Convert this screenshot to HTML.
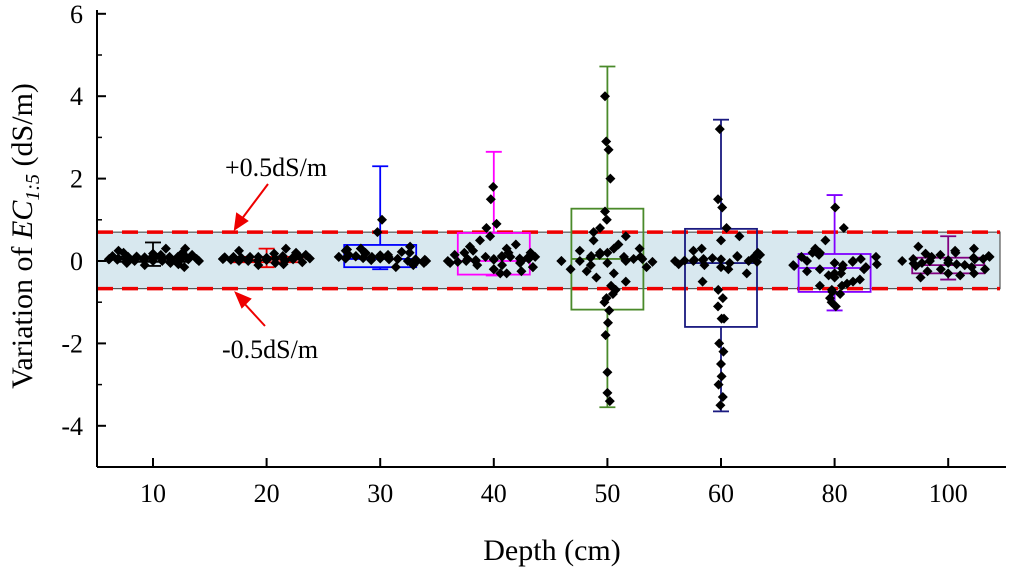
<!DOCTYPE html>
<html><head><meta charset="utf-8"><style>
html,body{margin:0;padding:0;background:#fff;}
svg{display:block;font-family:"Liberation Serif",serif;}
</style></head><body>
<svg id="c" width="1009" height="576" viewBox="0 0 1009 576" xmlns="http://www.w3.org/2000/svg">
<g id="bg"></g><g id="marks"></g><g id="axes"></g>
</svg>
<script>
const categories=["10","20","30","40","50","60","80","100"];
const q1=[-0.02,-0.03,-0.15,-0.33,-1.18,-1.6,-0.75,-0.3];
const q3=[0.1,0.1,0.39,0.68,1.27,0.78,0.17,0.08];
const medians=[0.05,0.03,0.05,0.0,0.05,-0.05,-0.17,-0.1];
const whiskerHi=[0.45,0.3,2.3,2.65,4.72,3.43,1.6,0.6];
const whiskerLo=[-0.12,-0.15,-0.2,-0.35,-3.55,-3.65,-1.2,-0.45];
const boxColors=["#000","#e00","#00f","#f0f","#4a8a2a","#1a1a80","#8000ff","#800080"];
const yTicks=[6,4,2,0,-2,-4];
const pts=[
[0.05,0.1,0.0,0.15,0.08,-0.05,0.2,0.12,0.03,0.1,-0.1,0.05,0.3,0.08,0.0,0.15,0.06,-0.15,0.1,0.2,0.02,0.05,0.12,-0.05,0.07,0.3,0.0,0.1,0.04,0.18,0.06,-0.08,0.09,0.25,0.01,0.11,0.05,0.14,0.03,0.08,0.0,0.06,0.1,0.02,0.04,0.07,0.09,0.01],
[0.05,0.0,0.1,0.15,-0.05,0.08,0.2,0.02,0.1,0.3,-0.1,0.05,0.12,0.0,0.06,0.18,0.03,-0.03,0.08,0.25,0.04,0.1,0.07,-0.08,0.02,0.14,0.06,0.0,0.11,0.05,0.03,0.07,0.01,0.09,0.04],
[0.1,0.05,0.2,0.0,0.15,0.3,-0.1,0.08,0.12,1.0,0.7,0.25,0.05,0.18,-0.05,0.1,0.3,0.0,0.14,0.06,0.22,0.02,0.1,-0.15,0.08,0.35,0.04,0.12,0.2,0.06,0.15,0.0,0.1,0.28,0.05,0.07,0.03,0.09,0.11,0.04],
[0.0,0.1,-0.1,0.2,-0.3,0.05,0.4,-0.2,0.8,0.9,1.8,1.5,0.3,0.0,-0.15,0.1,0.5,-0.25,0.05,0.2,-0.05,0.6,0.15,-0.3,0.0,0.1,-0.1,0.25,0.05,-0.2,0.35,0.0,0.1,-0.05,0.2,0.02,-0.15,0.12,0.0,0.08,0.03,-0.02,0.06],
[0.0,0.1,-0.1,0.3,-0.3,0.5,-0.5,0.2,0.8,-0.8,1.0,-1.0,2.7,2.9,2.0,-1.5,-1.8,-3.4,-3.2,4.0,0.05,0.15,-0.2,0.4,-0.4,0.6,-0.6,0.0,0.1,-0.05,0.25,-1.2,-0.9,0.7,0.0,0.12,-0.15,0.3,-0.25,0.05,-2.7,1.2,-0.7,0.2,0.0,0.02,0.08,-0.02],
[0.0,0.1,-0.1,0.2,-0.2,0.3,-0.3,0.5,-0.5,0.8,-0.7,1.5,1.3,3.2,-1.4,-1.4,-2.0,-2.2,-2.5,-3.0,-3.3,-3.5,-1.1,-0.9,0.05,0.15,-0.05,0.0,0.1,-0.15,0.25,0.0,0.07,-0.08,0.12,0.02,0.6,-2.8,0.03,-0.02,0.04,0.01],
[-0.1,0.0,-0.2,0.1,-0.3,0.2,-0.5,-0.4,-0.6,-0.8,-0.7,-1.0,-1.1,0.5,0.8,1.3,0.3,-0.15,-0.05,-0.25,0.05,-0.35,-0.9,-0.6,0.15,-0.45,-0.1,0.0,-0.2,-0.3,0.1,-0.55,-0.75,-0.12,-0.02,0.2,-0.08,-0.18],
[0.0,-0.1,0.1,-0.2,0.2,-0.05,0.3,-0.3,0.05,-0.15,0.15,-0.4,-0.1,0.0,0.1,0.25,-0.25,0.05,-0.05,-0.12,0.08,-0.2,0.35,-0.35,0.0,0.12,-0.08,0.18,-0.3,0.02,-0.06,0.04]
];
const ns="http://www.w3.org/2000/svg";
const X0=97,X1=1000,CX0=153,STEP=113.6,Y0=261,PX=41.2;
function xs(i){return CX0+i*STEP;}
function ys(v){return Y0-v*PX;}
function mk(tag,attrs,parent){const e=document.createElementNS(ns,tag);for(const k in attrs)e.setAttribute(k,attrs[k]);parent.appendChild(e);return e;}
const bg=document.getElementById('bg'),marks=document.getElementById('marks'),axes=document.getElementById('axes');
let band=mk('rect',{x:X0,y:ys(0.7),width:X1-X0,height:ys(-0.67)-ys(0.7),fill:'#d8e8ef',stroke:'#555','stroke-width':1.2},bg);


[0.7,-0.67].forEach((v,k)=>{
 const l=mk('line',{x1:X0,x2:X1,y1:ys(v),y2:ys(v),stroke:'#e00','stroke-width':3.5,'stroke-dasharray':'16,9'},bg);
 
 
});
categories.forEach((c,i)=>{
 const g=mk('g',{},marks);
 
 
 const cx=xs(i),col=boxColors[i],hw=36;
 mk('line',{x1:cx,x2:cx,y1:ys(whiskerHi[i]),y2:ys(q3[i]),stroke:col,'stroke-width':1.8},g);
 mk('line',{x1:cx,x2:cx,y1:ys(q1[i]),y2:ys(whiskerLo[i]),stroke:col,'stroke-width':1.8},g);
 mk('line',{x1:cx-8,x2:cx+8,y1:ys(whiskerHi[i]),y2:ys(whiskerHi[i]),stroke:col,'stroke-width':1.8},g);
 mk('line',{x1:cx-8,x2:cx+8,y1:ys(whiskerLo[i]),y2:ys(whiskerLo[i]),stroke:col,'stroke-width':1.8},g);
 mk('rect',{x:cx-hw,y:ys(q3[i]),width:hw*2,height:ys(q1[i])-ys(q3[i]),fill:'none',stroke:col,'stroke-width':1.8},g);
 mk('line',{x1:cx-hw,x2:cx+hw,y1:ys(medians[i]),y2:ys(medians[i]),stroke:col,'stroke-width':1.8},g);
 const pg=mk('g',{},marks);
 
 
 pts[i].forEach((v,j)=>{
  const spread=Math.abs(v)>0.9?3:46*(1-Math.min(Math.abs(v)/1.0,0.9));
  const off=((j*7)%11-5)/5*spread;
  const px=cx+off,py=ys(v),r=5;
  const d=mk('path',{d:`M${px},${py-r}L${px+r},${py}L${px},${py+r}L${px-r},${py}Z`,fill:'#000'},pg);
  
  
 });
});
let ya=mk('line',{x1:X0,x2:X0,y1:10,y2:467,stroke:'#000','stroke-width':2},axes);

let xa=mk('line',{x1:X0,x2:1006,y1:467,y2:467,stroke:'#000','stroke-width':2},axes);

yTicks.forEach(t=>{
 mk('line',{x1:X0,x2:X0+9,y1:ys(t),y2:ys(t),stroke:'#000','stroke-width':2},axes);
 const tx=mk('text',{x:X0-14,y:ys(t)+9,'text-anchor':'end','font-size':26},axes);
 tx.textContent=t;
 
 
});
[5,3,1,-1,-3,-5].forEach(t=>mk('line',{x1:X0,x2:X0+5,y1:ys(t),y2:ys(t),stroke:'#000','stroke-width':1.5},axes));
categories.forEach((c,i)=>{
 mk('line',{x1:xs(i),x2:xs(i),y1:467,y2:458,stroke:'#000','stroke-width':2},axes);
 const tx=mk('text',{x:xs(i),y:502,'text-anchor':'middle','font-size':26},axes);
 tx.textContent=c;
 
 
});
</script>
<div style="position:absolute;left:0;top:0;width:1009px;height:576px;pointer-events:none">
<svg width="1009" height="576" style="font-family:'Liberation Serif',serif">
<text x="552" y="560" text-anchor="middle" font-size="30">Depth (cm)</text>
<text transform="translate(32,236) rotate(-90)" text-anchor="middle" font-size="30">Variation of <tspan font-style="italic">EC</tspan><tspan font-style="italic" font-size="20" dy="7">1:5</tspan><tspan dy="-7">  (dS/m)</tspan></text>
<text x="225" y="176" font-size="26">+0.5dS/m</text>
<text x="222" y="358" font-size="26">-0.5dS/m</text>
<g stroke="#e00" fill="#e00" stroke-width="2">
<line x1="268" y1="184" x2="241" y2="220"/><path d="M235,229 L237,214 L247,221 Z"/></g>
<g stroke="#e00" fill="#e00" stroke-width="2">
<line x1="265" y1="326" x2="242" y2="301"/><path d="M236,293 L250,299 L242,307 Z"/></g>
</svg></div>
</body></html>
